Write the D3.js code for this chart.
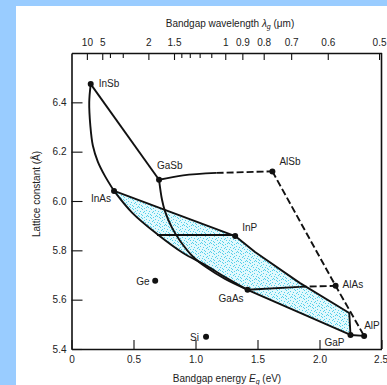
<!DOCTYPE html>
<html>
<head>
<meta charset="utf-8">
<script src="https://cdn.jsdelivr.net/npm/d3@7"></script>
<style>
  html, body { margin: 0; padding: 0; background: #fff; }
  svg { display: block; }
  text { font-family: "Liberation Sans", Arial, sans-serif; }
</style>
</head>
<body>
<svg id="chart" width="387" height="385"></svg>
<script>
// Binary semiconductors: bandgap energy (eV) and lattice constant (Å)
const names    = ["InSb", "GaSb", "InAs", "AlSb", "InP", "AlAs", "GaAs", "AlP", "GaP", "Ge", "Si"];
const bandgaps = [0.155, 0.706, 0.343, 1.62, 1.32, 2.13, 1.42, 2.36, 2.25, 0.675, 1.085];
const lattices = [6.474, 6.086, 6.041, 6.12, 5.858, 5.656, 5.64, 5.453, 5.457, 5.677, 5.45];

// Ternary / quaternary alloy lines, [Eg, a] pairs
const inSbInAs = [[0.155, 6.474], [0.143, 6.40], [0.152, 6.305], [0.172, 6.225], [0.212, 6.160], [0.268, 6.103], [0.343, 6.041]];
const inSbGaSb = [[0.155, 6.474], [0.706, 6.086]];
const gaSbAlSbDirect = [[0.706, 6.086], [0.90, 6.104], [1.17, 6.114]];
const gaSbAlSbIndirect = [[1.17, 6.114], [1.62, 6.12]];
const alSbAlAsAlP = [[1.62, 6.12], [2.13, 5.656], [2.36, 5.453]];
const inAsInP = [[0.343, 6.041], [1.32, 5.858]];
const inAsGaAs = [[0.343, 6.041], [0.49, 5.952], [0.69, 5.866], [0.90, 5.789], [1.077, 5.741], [1.238, 5.692], [1.42, 5.64]];
const gaSbGaAs = [[0.706, 6.086], [0.73, 6.005], [0.755, 5.957], [0.81, 5.892], [0.875, 5.839], [0.98, 5.774], [1.093, 5.729], [1.238, 5.684], [1.42, 5.64]];
const inPMatched = [[0.69, 5.862], [1.32, 5.862]];
const gaAsAlAsDirect = [[1.42, 5.64], [1.84, 5.652]];
const gaAsAlAsIndirect = [[1.84, 5.652], [2.13, 5.656]];
const inPGaP = [[1.32, 5.858], [1.48, 5.793], [1.84, 5.668], [2.24, 5.546], [2.25, 5.457]];
const gaAsGaP = [[1.42, 5.64], [2.25, 5.457]];
const gaPAlP = [[2.25, 5.457], [2.36, 5.453]];

// Axis ticks
const energyTicks = [0, 0.5, 1.0, 1.5, 2.0, 2.5];
const latticeTicks = [5.4, 5.6, 5.8, 6.0, 6.2, 6.4];
const wavelengthMinor = [4, 3, 1.4, 1.3, 1.2, 1.1];
const wavelengthMajor = [10, 5, 2, 1.5, 1, 0.9, 0.8, 0.7, 0.6, 0.5];
const hcOverE = 1.24; // λ(µm) = 1.24 / Eg(eV)

const svg = d3.select("#chart");
const W = 387, H = 385;

// page frame
svg.append("rect").attr("width", W).attr("height", H).attr("fill", "#99ccff");
svg.append("rect").attr("x", 16).attr("y", 6).attr("width", W - 16).attr("height", H - 6).attr("fill", "#fff");

const x = d3.scaleLinear().domain([0, 2.5]).range([71.5, 381.5]);
const y = d3.scaleLinear().domain([5.4, 6.6]).range([349, 53]);

// stipple fill for the InGaAsP region (irregular dot tile)
const defs = svg.append("defs");
const tile = 9;
const pat = defs.append("pattern").attr("id", "stipple").attr("patternUnits", "userSpaceOnUse")
  .attr("width", tile).attr("height", tile);
pat.append("rect").attr("width", tile).attr("height", tile).attr("fill", "#e2f9fd");
const dots = [[0, 1], [4, 0], [7, 2], [2, 3], [5, 4], [8, 5], [1, 6], [3, 8], [6, 7], [4, 6], [0, 4], [7, 8], [2, 0], [6, 1]];
dots.forEach(([px, py]) =>
  pat.append("rect").attr("x", px).attr("y", py).attr("width", 1).attr("height", 1).attr("fill", "#55d0ea"));

const region = [].concat(inAsInP, inPGaP, gaAsGaP.slice().reverse(), inAsGaAs.slice().reverse());
svg.append("path")
  .attr("d", d3.line().x(d => x(d[0])).y(d => y(d[1]))(region) + "Z")
  .attr("fill", "url(#stipple)").attr("stroke", "none");

// alloy lines
const smooth = d3.line().x(d => x(d[0])).y(d => y(d[1])).curve(d3.curveCatmullRom.alpha(0.5));
const straight = d3.line().x(d => x(d[0])).y(d => y(d[1]));
const lines = [
  [inSbInAs, smooth, false],
  [inSbGaSb, straight, false],
  [gaSbAlSbDirect, smooth, false],
  [gaSbAlSbIndirect, straight, true],
  [alSbAlAsAlP, straight, true],
  [inAsInP, straight, false],
  [inAsGaAs, smooth, false],
  [gaSbGaAs, smooth, false],
  [inPMatched, straight, false],
  [gaAsAlAsDirect, straight, false],
  [gaAsAlAsIndirect, straight, true],
  [inPGaP, straight, false],
  [gaAsGaP, straight, false],
  [gaPAlP, straight, false]
];
const lg = svg.append("g").attr("fill", "none").attr("stroke", "#111").attr("stroke-width", 1.9)
  .attr("stroke-linejoin", "round");
lines.forEach(([pts, gen, dashed]) => {
  const p = lg.append("path").attr("d", gen(pts));
  if (dashed) p.attr("stroke-dasharray", "7,3");
});

// frame and axes
const axisColor = "#111";
const bottom = svg.append("g").attr("transform", `translate(0,${y(5.4)})`)
  .call(d3.axisBottom(x).tickValues(energyTicks).tickSizeInner(-9).tickSizeOuter(0).tickPadding(7)
    .tickFormat(d => d === 0 ? "0" : d3.format(".1f")(d)));
const left = svg.append("g").attr("transform", `translate(${x(0)},0)`)
  .call(d3.axisLeft(y).tickValues(latticeTicks).tickSizeInner(-11).tickSizeOuter(0).tickPadding(5)
    .tickFormat(d3.format(".1f")));
const topMinor = svg.append("g").attr("transform", `translate(0,${y(6.6)})`)
  .call(d3.axisTop(x).tickValues(wavelengthMinor.map(l => hcOverE / l)).tickSizeInner(-5).tickSizeOuter(0)
    .tickFormat(""));
const topMajor = svg.append("g").attr("transform", `translate(0,${y(6.6)})`)
  .call(d3.axisTop(x).tickValues(wavelengthMajor.map(l => hcOverE / l)).tickSizeInner(-7).tickSizeOuter(0)
    .tickPadding(7).tickFormat((d, i) => String(wavelengthMajor[i])));
[bottom, left, topMinor, topMajor].forEach(g => {
  g.selectAll(".domain").attr("stroke", axisColor).attr("stroke-width", 1.6);
  g.selectAll(".tick line").attr("stroke", axisColor).attr("stroke-width", 1.1);
  g.selectAll(".tick text").attr("fill", "#222").attr("font-size", 10)
    .attr("font-family", "'Liberation Sans', Arial, sans-serif");
});
topMinor.select(".domain").remove();
// keep the corner labels inside the page
bottom.selectAll(".tick text").filter(d => d === 2.5).attr("text-anchor", "end").attr("dx", 6);
topMajor.selectAll(".tick text").filter((d, i) => i === wavelengthMajor.length - 1).attr("text-anchor", "end").attr("dx", 7);
svg.append("line").attr("x1", x(2.5)).attr("x2", x(2.5)).attr("y1", y(6.6)).attr("y2", y(5.4))
  .attr("stroke", axisColor).attr("stroke-width", 1.6);

// compound markers and labels
const labelOffset = {
  InSb: [8, 3], GaSb: [-2, -11], InAs: [-23, 11], AlSb: [7, -6], InP: [7, -5], AlAs: [7, 2],
  GaAs: [-29, 12], AlP: [0, -7], GaP: [-26, 11], Ge: [-19, 4], Si: [-16, 4]
};
const pts = svg.append("g");
names.forEach((n, i) => {
  pts.append("circle").attr("cx", x(bandgaps[i])).attr("cy", y(lattices[i])).attr("r", 3).attr("fill", "#111");
  const [dx, dy] = labelOffset[n];
  pts.append("text").attr("x", x(bandgaps[i]) + dx).attr("y", y(lattices[i]) + dy)
    .attr("font-size", 10).attr("fill", "#222").text(n);
});

// axis titles
const topTitle = svg.append("text").attr("x", 230).attr("y", 27).attr("text-anchor", "middle")
  .attr("font-size", 10).attr("fill", "#222");
topTitle.append("tspan").text("Bandgap wavelength ");
topTitle.append("tspan").attr("font-style", "italic").text("λ");
topTitle.append("tspan").attr("font-style", "italic").attr("font-size", 7).attr("dy", 2).text("g");
topTitle.append("tspan").attr("dy", -2).text(" (μm)");

const botTitle = svg.append("text").attr("x", 227).attr("y", 382).attr("text-anchor", "middle")
  .attr("font-size", 10).attr("fill", "#222");
botTitle.append("tspan").text("Bandgap energy ");
botTitle.append("tspan").attr("font-style", "italic").text("E");
botTitle.append("tspan").attr("font-style", "italic").attr("font-size", 7).attr("dy", 2).text("g");
botTitle.append("tspan").attr("dy", -2).text(" (eV)");

svg.append("text").attr("transform", "translate(40,194) rotate(-90)").attr("text-anchor", "middle")
  .attr("font-size", 10).attr("fill", "#222").text("Lattice constant (Å)");
</script>
</body>
</html>
